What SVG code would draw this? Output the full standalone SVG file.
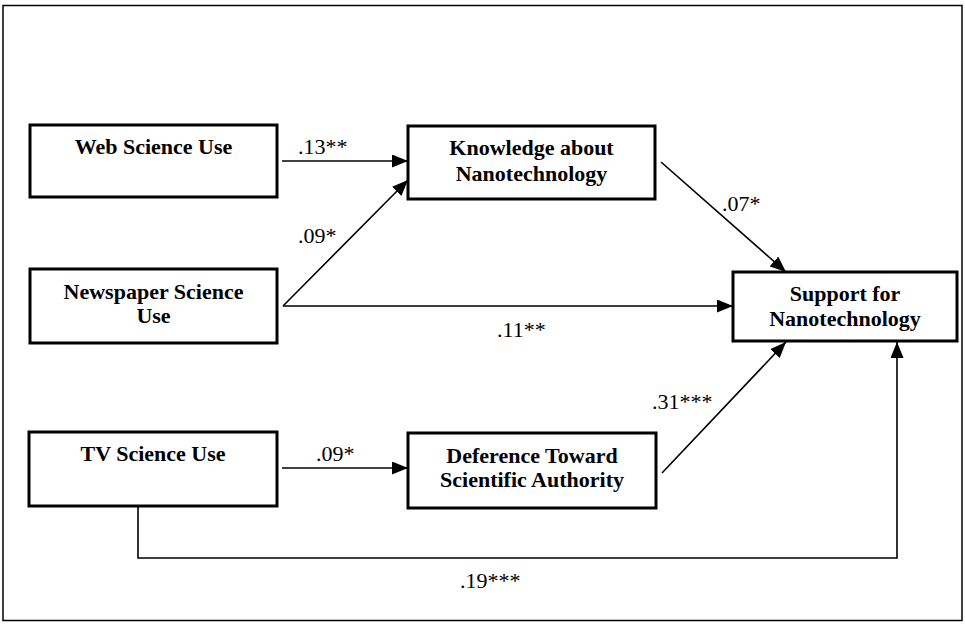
<svg xmlns="http://www.w3.org/2000/svg" width="965" height="624" viewBox="0 0 965 624">
<defs>
<style>
.box{fill:#fff;stroke:#000;stroke-width:3}
.bt{font-family:"Liberation Serif","Times New Roman",serif;font-weight:bold;font-size:22px;text-anchor:middle;fill:#000}
.lb{font-family:"Liberation Serif","Times New Roman",serif;font-size:22px;fill:#000}
.ln{fill:none;stroke:#000;stroke-width:1.6}
</style>
<marker id="ah" viewBox="0 0 16 13" refX="16" refY="6.5" markerWidth="16" markerHeight="13" markerUnits="userSpaceOnUse" orient="auto">
<path d="M0,0 L16,6.5 L0,13 Z" fill="#000"/>
</marker>
</defs>
<rect x="0" y="0" width="965" height="624" fill="#fff"/>
<rect x="3" y="5.5" width="959" height="615" fill="none" stroke="#000" stroke-width="1.5"/>
<g id="connectors">
<line class="ln" x1="282" y1="161" x2="408" y2="161" marker-end="url(#ah)"/>
<line class="ln" x1="283" y1="306" x2="733" y2="306" marker-end="url(#ah)"/>
<line class="ln" x1="283" y1="306" x2="408" y2="180" marker-end="url(#ah)"/>
<line class="ln" x1="661" y1="162" x2="786" y2="272" marker-end="url(#ah)"/>
<line class="ln" x1="282" y1="468" x2="408" y2="468" marker-end="url(#ah)"/>
<line class="ln" x1="662" y1="473" x2="786" y2="342" marker-end="url(#ah)"/>
<polyline class="ln" points="138,507 138,558 897,558 897,342" marker-end="url(#ah)"/>
<text class="lb" x="298" y="154">.13**</text>
<text class="lb" x="298" y="243">.09*</text>
<text class="lb" x="722" y="211">.07*</text>
<text class="lb" x="497" y="337">.11**</text>
<text class="lb" x="316" y="461">.09*</text>
<text class="lb" x="652" y="409">.31***</text>
<text class="lb" x="460" y="588">.19***</text>
</g>
<g id="web">
<rect class="box" x="30" y="125" width="247" height="72"/>
<text class="bt" x="153.5" y="154">Web Science Use</text>
</g>
<g id="knowledge">
<rect class="box" x="408" y="126" width="247" height="73"/>
<text class="bt" x="531.5" y="155">Knowledge about</text>
<text class="bt" x="531.5" y="181">Nanotechnology</text>
</g>
<g id="newspaper">
<rect class="box" x="30" y="269" width="247" height="74"/>
<text class="bt" x="153.5" y="299">Newspaper Science</text>
<text class="bt" x="153.5" y="323">Use</text>
</g>
<g id="support">
<rect class="box" x="733" y="272" width="224" height="69"/>
<text class="bt" x="845" y="301">Support for</text>
<text class="bt" x="845" y="326">Nanotechnology</text>
</g>
<g id="tv">
<rect class="box" x="29" y="432" width="248" height="74"/>
<text class="bt" x="153" y="461">TV Science Use</text>
</g>
<g id="deference">
<rect class="box" x="408" y="433" width="248" height="75"/>
<text class="bt" x="532" y="463">Deference Toward</text>
<text class="bt" x="532" y="487">Scientific Authority</text>
</g>
</svg>
